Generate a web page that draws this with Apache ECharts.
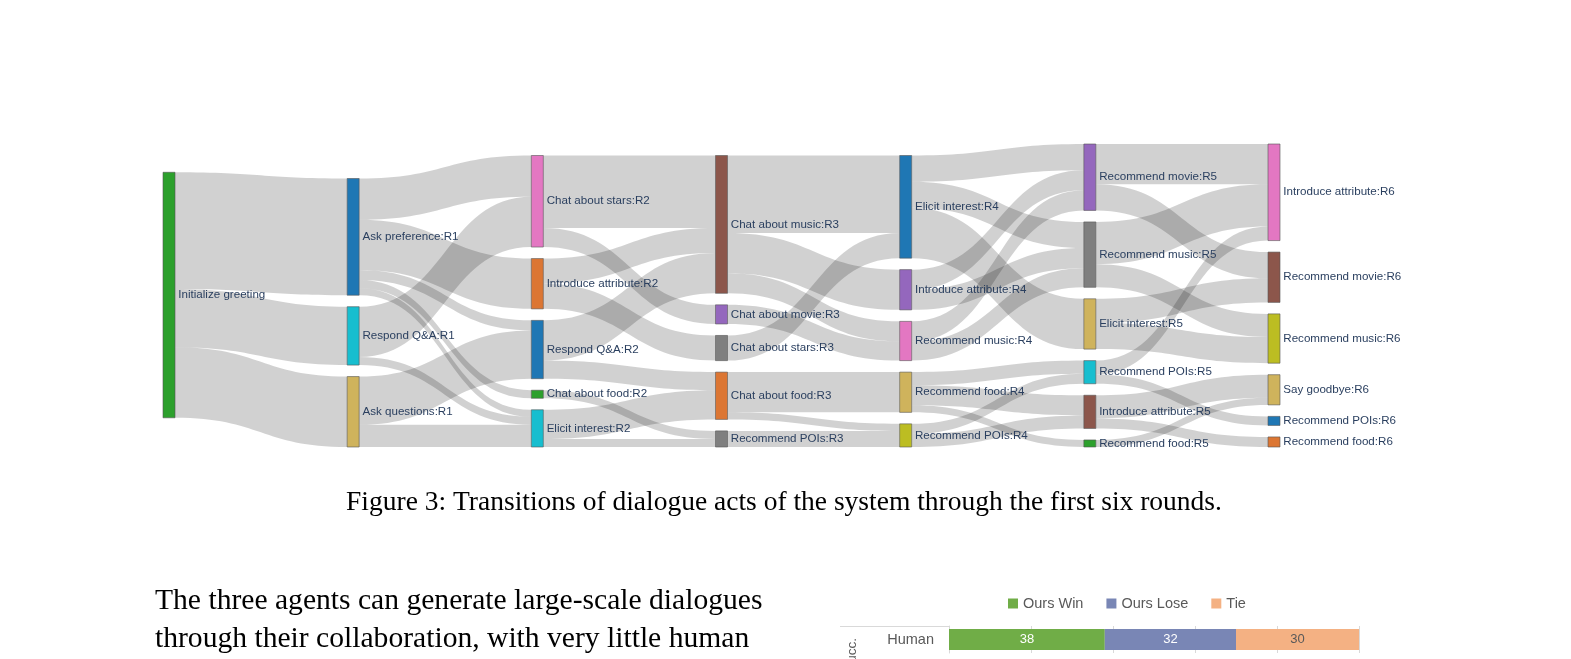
<!DOCTYPE html>
<html>
<head>
<meta charset="utf-8">
<script src="https://cdn.jsdelivr.net/npm/echarts@6/dist/echarts.min.js"></script>
<style>
  html, body { margin: 0; padding: 0; background: #fff; }
  #main { width: 1571px; height: 659px; }
</style>
</head>
<body>
<div id="main"></div>
<script>
// sankey nodes, one list per round (top to bottom as drawn)
const round0 = ['Initialize greeting']
const round1 = ['Ask preference:R1', 'Respond Q&A:R1', 'Ask questions:R1']
const round2 = ['Chat about stars:R2', 'Introduce attribute:R2', 'Respond Q&A:R2', 'Chat about food:R2', 'Elicit interest:R2']
const round3 = ['Chat about music:R3', 'Chat about stars:R3', 'Chat about movie:R3', 'Chat about food:R3', 'Recommend POIs:R3']
const round4 = ['Elicit interest:R4', 'Introduce attribute:R4', 'Recommend music:R4', 'Recommend food:R4', 'Recommend POIs:R4']
const round5 = ['Recommend movie:R5', 'Recommend music:R5', 'Elicit interest:R5', 'Recommend POIs:R5', 'Introduce attribute:R5', 'Recommend food:R5']
const round6 = ['Introduce attribute:R6', 'Recommend movie:R6', 'Recommend music:R6', 'Say goodbye:R6', 'Recommend POIs:R6', 'Recommend food:R6']

// transitions [source, target, value]
const links01 = [
  ['Initialize greeting', 'Ask preference:R1', 116],
  ['Initialize greeting', 'Respond Q&A:R1', 58],
  ['Initialize greeting', 'Ask questions:R1', 70]
]
const links12 = [
  ['Ask preference:R1', 'Chat about stars:R2', 41],
  ['Ask preference:R1', 'Introduce attribute:R2', 50],
  ['Ask preference:R1', 'Respond Q&A:R2', 10],
  ['Ask preference:R1', 'Chat about food:R2', 8],
  ['Ask preference:R1', 'Elicit interest:R2', 7],
  ['Respond Q&A:R1', 'Chat about stars:R2', 50],
  ['Respond Q&A:R1', 'Elicit interest:R2', 8],
  ['Ask questions:R1', 'Respond Q&A:R2', 48],
  ['Ask questions:R1', 'Elicit interest:R2', 22]
]
const links23 = [
  ['Chat about stars:R2', 'Chat about music:R3', 72],
  ['Chat about stars:R2', 'Chat about movie:R3', 19],
  ['Introduce attribute:R2', 'Chat about music:R3', 25],
  ['Introduce attribute:R2', 'Chat about stars:R3', 25],
  ['Respond Q&A:R2', 'Chat about music:R3', 40],
  ['Respond Q&A:R2', 'Chat about food:R3', 18],
  ['Chat about food:R2', 'Recommend POIs:R3', 8],
  ['Elicit interest:R2', 'Chat about food:R3', 29],
  ['Elicit interest:R2', 'Recommend POIs:R3', 8]
]
const links34 = [
  ['Chat about music:R3', 'Elicit interest:R4', 77],
  ['Chat about music:R3', 'Introduce attribute:R4', 40],
  ['Chat about music:R3', 'Recommend music:R4', 20],
  ['Chat about stars:R3', 'Elicit interest:R4', 25],
  ['Chat about movie:R3', 'Recommend music:R4', 19],
  ['Chat about food:R3', 'Recommend food:R4', 40],
  ['Chat about food:R3', 'Recommend POIs:R4', 7],
  ['Recommend POIs:R3', 'Recommend POIs:R4', 16]
]
const links45 = [
  ['Elicit interest:R4', 'Recommend movie:R5', 26],
  ['Elicit interest:R4', 'Recommend music:R5', 26],
  ['Elicit interest:R4', 'Elicit interest:R5', 50],
  ['Introduce attribute:R4', 'Recommend movie:R5', 20],
  ['Introduce attribute:R4', 'Recommend music:R5', 20],
  ['Recommend music:R4', 'Recommend movie:R5', 20],
  ['Recommend music:R4', 'Recommend music:R5', 19],
  ['Recommend food:R4', 'Recommend POIs:R5', 13],
  ['Recommend food:R4', 'Introduce attribute:R5', 20],
  ['Recommend food:R4', 'Recommend food:R5', 7],
  ['Recommend POIs:R4', 'Recommend POIs:R5', 10],
  ['Recommend POIs:R4', 'Introduce attribute:R5', 13]
]
const links56 = [
  ['Recommend movie:R5', 'Introduce attribute:R6', 40],
  ['Recommend movie:R5', 'Recommend movie:R6', 26],
  ['Recommend music:R5', 'Introduce attribute:R6', 42],
  ['Recommend music:R5', 'Recommend music:R6', 23],
  ['Elicit interest:R5', 'Recommend movie:R6', 24],
  ['Elicit interest:R5', 'Recommend music:R6', 26],
  ['Recommend POIs:R5', 'Introduce attribute:R6', 14],
  ['Recommend POIs:R5', 'Recommend POIs:R6', 9],
  ['Introduce attribute:R5', 'Say goodbye:R6', 23],
  ['Introduce attribute:R5', 'Recommend food:R6', 10],
  ['Recommend food:R5', 'Say goodbye:R6', 7]
]

// small comparison bar chart below the text
const barCategories = ['Human']
const oursWin = [38]
const oursLose = [32]
const tie = [30]

const nodeColors = {
  'Initialize greeting': '#2ca02c',
  'Ask preference:R1': '#1f77b4',
  'Respond Q&A:R1': '#17becf',
  'Ask questions:R1': '#cfb35c',
  'Chat about stars:R2': '#e377c2',
  'Introduce attribute:R2': '#dc7633',
  'Respond Q&A:R2': '#1f77b4',
  'Chat about food:R2': '#2ca02c',
  'Elicit interest:R2': '#17becf',
  'Chat about music:R3': '#8c564b',
  'Chat about stars:R3': '#7f7f7f',
  'Chat about movie:R3': '#9467bd',
  'Chat about food:R3': '#dc7633',
  'Recommend POIs:R3': '#7f7f7f',
  'Elicit interest:R4': '#1f77b4',
  'Introduce attribute:R4': '#9467bd',
  'Recommend music:R4': '#e377c2',
  'Recommend food:R4': '#cfb35c',
  'Recommend POIs:R4': '#bcbd22',
  'Recommend movie:R5': '#9467bd',
  'Recommend music:R5': '#7f7f7f',
  'Elicit interest:R5': '#cfb35c',
  'Recommend POIs:R5': '#17becf',
  'Introduce attribute:R5': '#8c564b',
  'Recommend food:R5': '#2ca02c',
  'Introduce attribute:R6': '#e377c2',
  'Recommend movie:R6': '#8c564b',
  'Recommend music:R6': '#bcbd22',
  'Say goodbye:R6': '#cfb35c',
  'Recommend POIs:R6': '#1f77b4',
  'Recommend food:R6': '#dc7633'
}

const allNodes = [].concat(round0, round1, round2, round3, round4, round5, round6)
const allLinks = [].concat(links01, links12, links23, links34, links45, links56)

const chart = echarts.init(document.getElementById('main'))

const option = {
  animation: false,
  backgroundColor: '#fff',
  legend: {
    data: ['Ours Win', 'Ours Lose', 'Tie'],
    left: 1003,
    top: 591,
    icon: 'rect',
    itemWidth: 10,
    itemHeight: 10,
    itemGap: 23,
    textStyle: { color: '#595959', fontSize: 14.5, fontFamily: 'Liberation Sans, Arial, sans-serif' }
  },
  grid: { left: 949, right: 212, top: 626, bottom: 6 },
  xAxis: {
    type: 'value',
    min: 0,
    max: 100,
    interval: 20,
    axisLine: { show: false },
    axisTick: { show: false },
    axisLabel: { show: false },
    splitLine: { lineStyle: { color: '#d9d9d9' } }
  },
  yAxis: {
    type: 'category',
    data: barCategories,
    inverse: true,
    axisLine: { show: true, lineStyle: { color: '#d9d9d9' } },
    axisTick: { show: false },
    axisLabel: { color: '#595959', fontSize: 14.5, margin: 15, fontFamily: 'Liberation Sans, Arial, sans-serif' }
  },
  graphic: [
    {
      type: 'text',
      x: 784,
      y: 503,
      style: {
        text: 'Figure 3: Transitions of dialogue acts of the system through the first six rounds.',
        font: '27.5px "Liberation Serif", "Times New Roman", serif',
        fill: '#000',
        align: 'center',
        verticalAlign: 'middle'
      }
    },
    {
      type: 'text',
      x: 155,
      y: 601,
      style: {
        text: 'The three agents can generate large-scale dialogues',
        font: '29.6px "Liberation Serif", "Times New Roman", serif',
        fill: '#000',
        align: 'left',
        verticalAlign: 'middle'
      }
    },
    {
      type: 'text',
      x: 155,
      y: 639,
      style: {
        text: 'through their collaboration, with very little human',
        font: '29.6px "Liberation Serif", "Times New Roman", serif',
        fill: '#000',
        align: 'left',
        verticalAlign: 'middle'
      }
    },
    {
      // top border of the category label cell
      type: 'line',
      shape: { x1: 840, y1: 626.5, x2: 949, y2: 626.5 },
      style: { stroke: '#d9d9d9', lineWidth: 1 }
    },
    {
      type: 'text',
      x: 852,
      y: 638,
      rotation: Math.PI / 2,
      style: {
        text: 'Succ.',
        font: '13.5px "Liberation Sans", Arial, sans-serif',
        fill: '#595959',
        align: 'right',
        verticalAlign: 'middle'
      }
    }
  ],
  series: [
    {
      type: 'sankey',
      left: 163,
      top: 144,
      right: 291,
      bottom: 212,
      nodeWidth: 12,
      nodeGap: 11.5,
      layoutIterations: 32,
      draggable: false,
      emphasis: { disabled: true },
      data: allNodes.map(name => ({ name: name, itemStyle: { color: nodeColors[name] } })),
      links: allLinks.map(l => ({ source: l[0], target: l[1], value: l[2] })),
      itemStyle: { borderColor: '#555', borderWidth: 0.6 },
      lineStyle: { color: '#000', opacity: 0.18, curveness: 0.5 },
      label: {
        position: 'right',
        distance: 3,
        color: '#2a3f5f',
        fontSize: 11.6,
        fontFamily: 'Liberation Sans, Arial, sans-serif'
      }
    },
    {
      name: 'Ours Win',
      type: 'bar',
      stack: 'total',
      barWidth: 21,
      data: oursWin,
      itemStyle: { color: '#70ad47' },
      label: { show: true, color: '#fff', fontSize: 13 }
    },
    {
      name: 'Ours Lose',
      type: 'bar',
      stack: 'total',
      barWidth: 21,
      data: oursLose,
      itemStyle: { color: '#7986b5' },
      label: { show: true, color: '#fff', fontSize: 13 }
    },
    {
      name: 'Tie',
      type: 'bar',
      stack: 'total',
      barWidth: 21,
      data: tie,
      itemStyle: { color: '#f4b183' },
      label: { show: true, color: '#595959', fontSize: 13 }
    }
  ]
}

chart.setOption(option)
</script>
</body>
</html>
